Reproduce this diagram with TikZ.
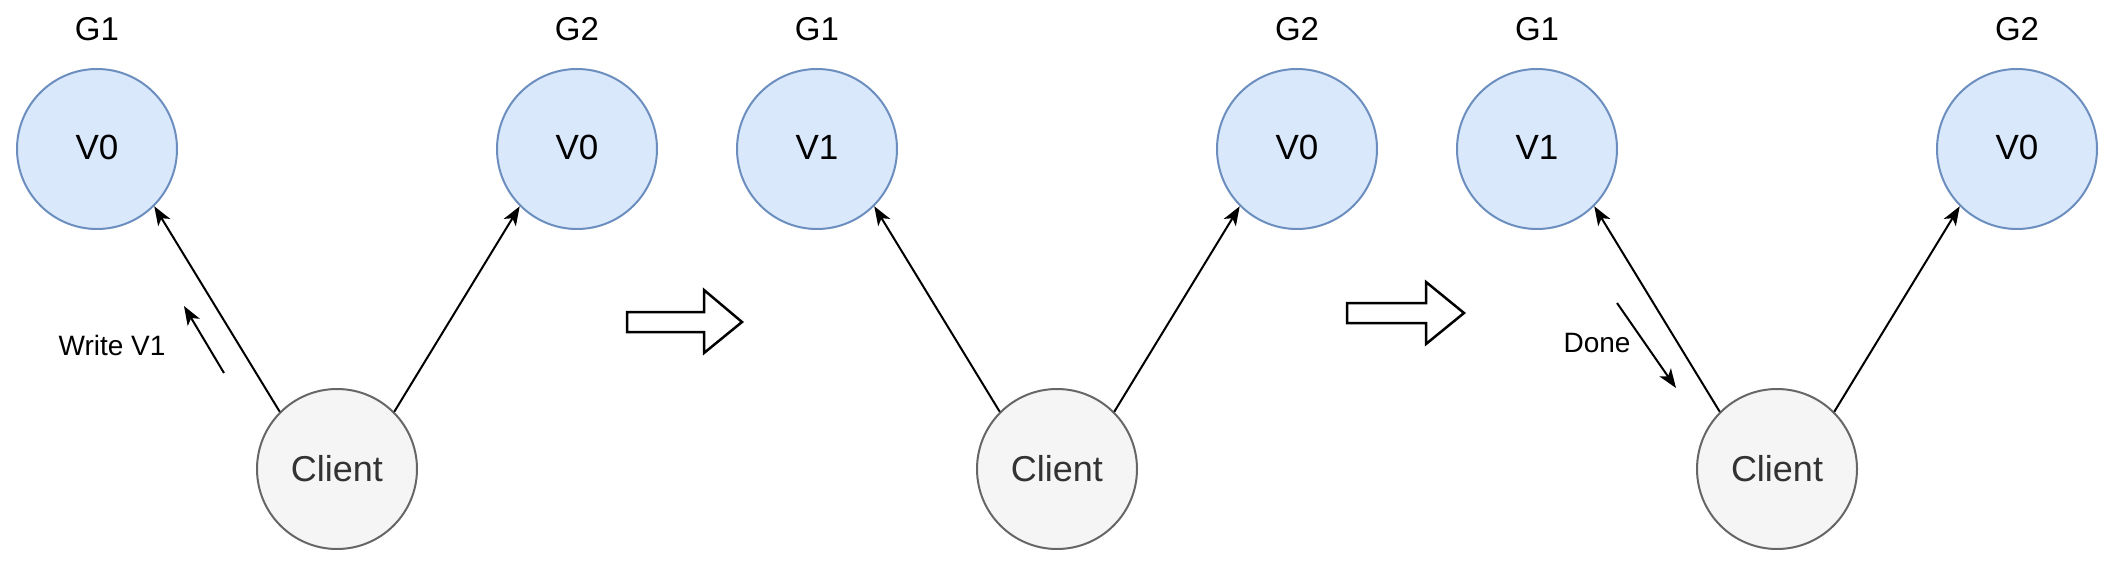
\documentclass[tikz,border=0pt]{standalone}
\usepackage{fontspec}
\setmainfont{Liberation Sans}
\usetikzlibrary{arrows.meta}
\definecolor{gfill}{HTML}{DAE8FC}
\definecolor{gdraw}{HTML}{6C8EBF}
\definecolor{cfill}{HTML}{F5F5F5}
\definecolor{cdraw}{HTML}{666666}
\definecolor{ctext}{HTML}{333333}
\tikzset{
  gnode/.style={circle, minimum size=160pt, inner sep=0pt, fill=gfill, draw=gdraw, line width=2pt},
  cnode/.style={circle, minimum size=160pt, inner sep=0pt, fill=cfill, draw=cdraw, line width=2pt},
  glabel/.style={anchor=base, inner sep=0pt, font=\fontsize{33}{39}\selectfont},
  vtext/.style={anchor=base, inner sep=0pt, font=\fontsize{35}{41}\selectfont},
  ctxt/.style={anchor=base, inner sep=0pt, text=ctext, font=\fontsize{36}{43}\selectfont},
  small/.style={anchor=base, inner sep=0pt, font=\fontsize{28}{33}\selectfont},
  conn/.style={line width=2pt, -{Stealth[length=19pt, width=14pt, inset=5pt]}},
  hollow/.style={draw=black, fill=white, line width=2.5pt, line join=miter}
}
\begin{document}
\begin{tikzpicture}[x=1pt, y=-1pt]
\useasboundingbox (0,0) rectangle (2110,572);
% ---------- panel 1 ----------
\node[gnode] (a1) at (97,149) {};
\node[gnode] (a2) at (577,149) {};
\node[cnode] (ac) at (337,469) {};
\node[glabel] (a1l) at (97,40.5) {G1};
\node[glabel] (a2l) at (577,40.5) {G2};
\node[vtext] (a1v) at (97,160) {V0};
\node[vtext] (a2v) at (577,160) {V0};
\node[ctxt] (acl) at (337,481) {Client};
\draw[conn] (ac.135) -- (a1.-45);
\draw[conn] (ac.45) -- (a2.-135);
\node[small] (wl) at (112,355) {Write V1};
\coordinate (w0) at (224,373);
\coordinate (w1) at (184,306);
\draw[conn] (w0) -- (w1);
% ---------- transition arrow 1 ----------
\draw[hollow] (627,312) -- (704,312) -- (704,290) -- (742,322) -- (704,353) -- (704,332) -- (627,332) -- cycle;
% ---------- panel 2 ----------
\node[gnode] (b1) at (817,149) {};
\node[gnode] (b2) at (1297,149) {};
\node[cnode] (bc) at (1057,469) {};
\node[glabel] (b1l) at (817,40.5) {G1};
\node[glabel] (b2l) at (1297,40.5) {G2};
\node[vtext] (b1v) at (817,160) {V1};
\node[vtext] (b2v) at (1297,160) {V0};
\node[ctxt] (bcl) at (1057,481) {Client};
\draw[conn] (bc.135) -- (b1.-45);
\draw[conn] (bc.45) -- (b2.-135);
% ---------- transition arrow 2 ----------
\draw[hollow] (1347,303) -- (1426,303) -- (1426,282) -- (1464,313) -- (1426,344) -- (1426,323) -- (1347,323) -- cycle;
% ---------- panel 3 ----------
\node[gnode] (c1) at (1537,149) {};
\node[gnode] (c2) at (2017,149) {};
\node[cnode] (cc) at (1777,469) {};
\node[glabel] (c1l) at (1537,40.5) {G1};
\node[glabel] (c2l) at (2017,40.5) {G2};
\node[vtext] (c1v) at (1537,160) {V1};
\node[vtext] (c2v) at (2017,160) {V0};
\node[ctxt] (ccl) at (1777,481) {Client};
\draw[conn] (cc.135) -- (c1.-45);
\draw[conn] (cc.45) -- (c2.-135);
\node[small] (dl) at (1597,352) {Done};
\coordinate (d0) at (1617,303);
\coordinate (d1) at (1676,388);
\draw[conn] (d0) -- (d1);
\end{tikzpicture}
\end{document}
